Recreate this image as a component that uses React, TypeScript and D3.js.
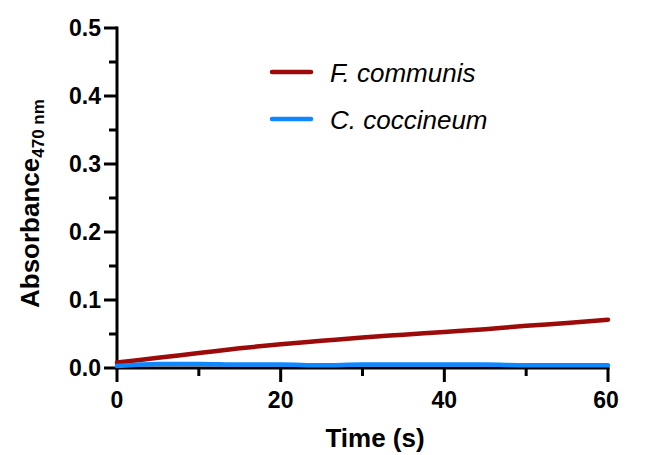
import React from "react";
import * as d3 from "d3";

const times = [0, 5, 10, 15, 20, 25, 30, 35, 40, 45, 50, 55, 60];
const fCommunis = [0.008, 0.015, 0.022, 0.029, 0.035, 0.040, 0.045, 0.049, 0.053, 0.057, 0.062, 0.066, 0.071];
const cCoccineum = [0.003, 0.006, 0.006, 0.005, 0.005, 0.004, 0.005, 0.005, 0.005, 0.005, 0.004, 0.004, 0.004];
const seriesNames = ["F. communis", "C. coccineum"];
const seriesColors = ["#9C0A0A", "#0F88FF"];
const xTicks = [0, 20, 40, 60];
const xMinor = [10, 30, 50];
const yTicks = [0, 0.1, 0.2, 0.3, 0.4, 0.5];
const yMinor = [0.05, 0.15, 0.25, 0.35, 0.45];

export default function App() {
  const W = 645, H = 455;
  const x = d3.scaleLinear().domain([0, 60]).range([117, 608]);
  const y = d3.scaleLinear().domain([0, 0.5]).range([368, 28]);
  const line = d3.line<[number, number]>().x(d => x(d[0])).y(d => y(d[1])).curve(d3.curveMonotoneX);
  const series = [fCommunis, cCoccineum];
  const font = "'Liberation Sans', Arial, sans-serif";
  return (
    <svg width={W} height={H} style={{ position: "absolute", left: 0, top: 0, background: "#fff" }} fontFamily={font}>
      {/* axes */}
      <line x1={x(0)} x2={x(0)} y1={y(0.5) - 1.5} y2={y(0) + 1.5} stroke="#000" strokeWidth={3} />
      <line x1={x(0) - 1.5} x2={x(60) + 1.5} y1={y(0)} y2={y(0)} stroke="#000" strokeWidth={3} />
      {yTicks.map(t => (
        <g key={"y" + t}>
          <line x1={x(0) - 13} x2={x(0)} y1={y(t)} y2={y(t)} stroke="#000" strokeWidth={3} />
          <text x={x(0) - 16} y={y(t)} dy="0.36em" textAnchor="end" fontSize={23} fontWeight="bold">{t.toFixed(1)}</text>
        </g>
      ))}
      {yMinor.map(t => (
        <line key={"ym" + t} x1={x(0) - 8} x2={x(0)} y1={y(t)} y2={y(t)} stroke="#000" strokeWidth={3} />
      ))}
      {xTicks.map(t => (
        <g key={"x" + t}>
          <line x1={x(t)} x2={x(t)} y1={y(0)} y2={y(0) + 14} stroke="#000" strokeWidth={3} />
          <text x={x(t) - (t === 60 ? 2 : 0)} y={408} textAnchor="middle" fontSize={23} fontWeight="bold">{t}</text>
        </g>
      ))}
      {xMinor.map(t => (
        <line key={"xm" + t} x1={x(t)} x2={x(t)} y1={y(0)} y2={y(0) + 8} stroke="#000" strokeWidth={3} />
      ))}
      {/* axis titles */}
      <text x={375} y={447} textAnchor="middle" fontSize={26} fontWeight="bold">Time (s)</text>
      <text transform="translate(39,308) rotate(-90)" textAnchor="start" fontSize={26} fontWeight="bold">
        Absorbance<tspan fontSize={17} dy={5}>470 nm</tspan>
      </text>
      {/* lines */}
      {series.map((s, i) => (
        <path key={i} d={line(times.map((t, j) => [t, s[j]]) as [number, number][]) || ""} fill="none"
          stroke={seriesColors[i]} strokeWidth={4.5} strokeLinecap="round" />
      ))}
      {/* legend */}
      {seriesNames.map((n, i) => (
        <g key={n}>
          <line x1={272} x2={311} y1={72 + i * 47} y2={72 + i * 47} stroke={seriesColors[i]} strokeWidth={4.5} strokeLinecap="round" />
          <text x={330} y={82 + i * 47} fontSize={26} fontStyle="italic">{n}</text>
        </g>
      ))}
    </svg>
  );
}
